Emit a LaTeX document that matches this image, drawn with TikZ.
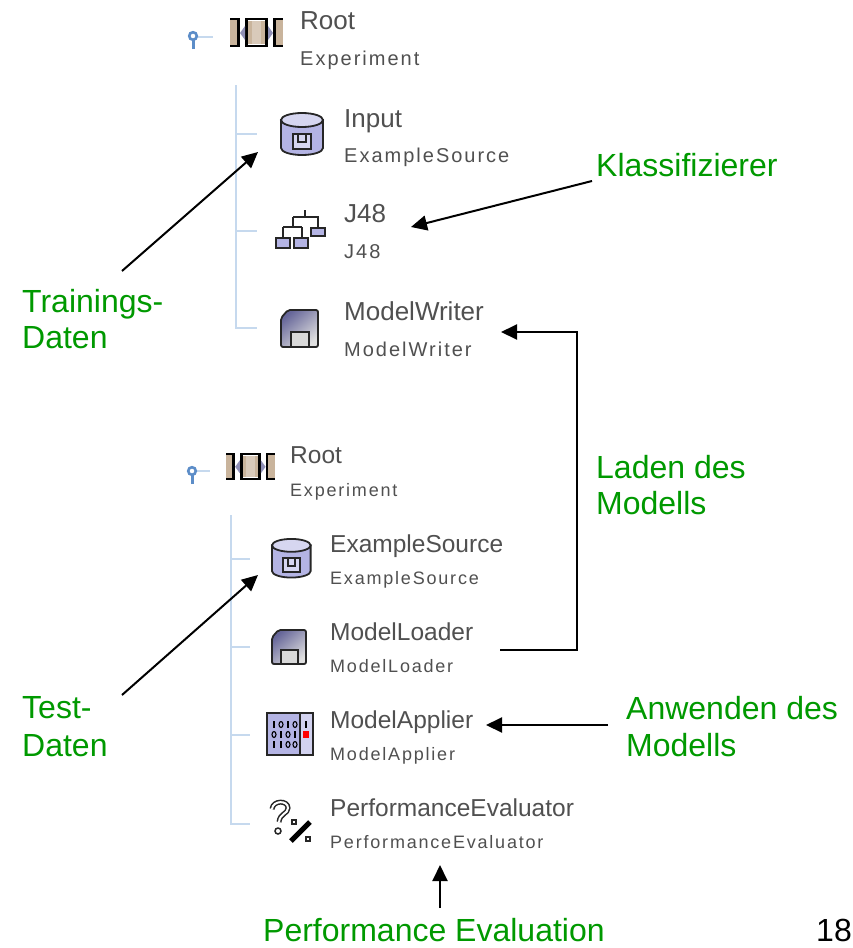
\documentclass[tikz,border=0pt]{standalone}
\usepackage{fontspec}
\setmainfont{Liberation Sans}
\newfontfamily\uismall[LetterSpace=10]{Liberation Sans}
\usetikzlibrary{arrows.meta}
\definecolor{labgreen}{HTML}{009900}
\definecolor{uigray}{HTML}{505050}
\definecolor{treeblue}{HTML}{C6D9EE}
\definecolor{pinblue}{HTML}{5C8DC8}
\definecolor{iconblue}{HTML}{B4B4E4}
\definecolor{icontan}{HTML}{C9B49C}
\tikzset{
  x=1pt,y=-1pt,
  glabel/.style={anchor=base west,inner sep=0pt,text=labgreen,font=\fontsize{32}{36}\selectfont},
  bigA/.style={anchor=base west,inner sep=0pt,text=uigray,font=\fontsize{26}{30}\selectfont},
  smallA/.style={anchor=base west,inner sep=0pt,text=uigray,font=\uismall\fontsize{20}{24}\selectfont},
  bigB/.style={anchor=base west,inner sep=0pt,text=uigray,font=\fontsize{24.5}{28}\selectfont},
  smallB/.style={anchor=base west,inner sep=0pt,text=uigray,font=\uismall\fontsize{18}{22}\selectfont},
  conn/.style={draw=black,line width=2pt},
  arrowed/.style={conn,-{Triangle[length=16pt,width=15pt]}},
  treeline/.style={draw=treeblue,line width=2pt},
  icon/.style={draw=black!85,line width=1.8pt},
  expicon/.pic={
    \fill[icontan] (0,2) rectangle (8,27);
    \fill[icontan] (16,3) rectangle (37,26);
    \fill[icontan!70!white] (22,3) rectangle (31,26);
    \fill[icontan] (46,2) rectangle (53,27);
    \fill[black] (7,0) rectangle (10,29);
    \fill[black] (43,0) rectangle (46,29);
    \fill[black] (15,0) rectangle (18,29);
    \fill[black] (35,0) rectangle (38,29);
    \fill[black] (0,0) rectangle (8,2);
    \fill[black] (0,27) rectangle (8,29);
    \fill[black] (15,0) rectangle (38,2);
    \fill[black] (15,27) rectangle (38,29);
    \fill[black] (45,0) rectangle (53,2);
    \fill[black] (45,27) rectangle (53,29);
    \fill[iconblue!80!black] (10,15) -- (15,8) -- (15,22) -- cycle;
    \fill[iconblue!80!black] (43,15) -- (38,8) -- (38,22) -- cycle;
  },
  cylicon/.pic={
    \path[icon,fill=iconblue] (0,8) -- (0,36) arc[start angle=180,end angle=0,x radius=21,y radius=7] -- (42,8) -- cycle;
    \path[icon,fill=iconblue!55] (21,8) ellipse[x radius=21,y radius=7];
    \path[icon,fill=iconblue!55] (12,22) rectangle (30,37);
    \path[icon] (17,22) -- (17,30) -- (25,30) -- (25,22);
  },
  treeicon/.pic={
    \draw[icon] (30,0) -- (30,7) (18,7) -- (43,7) -- (43,18) (18,7) -- (18,17) (8,17) -- (27,17) (8,17) -- (8,28) (27,17) -- (27,28);
    \path[icon,fill=iconblue] (36,18) rectangle (50,26);
    \path[icon,fill=iconblue] (1,28) rectangle (15,38);
    \path[icon,fill=iconblue] (19,28) rectangle (33,38);
  },
  floppyicon/.pic={
    \path[icon,rounded corners=2pt,shading=axis,left color=gray!80!blue,right color=gray!25,shading angle=40] (7,0) -- (37,0) -- (37,37) -- (0,37) -- (0,8) -- cycle;
    \path[icon,fill=gray!30] (10,22) rectangle (28,37);
  },
  appicon/.pic={
    \path[icon,fill=iconblue] (0,0) rectangle (46,42);
    \fill[iconblue!60] (34,1) rectangle (45,41);
    \draw[icon] (33,0) -- (33,42);
    \fill[red] (36,18) rectangle (42,25);
    \draw[black,line width=1.4pt] (39,8) -- (39,15);
    \foreach \row/\pa/\pb/\pc/\pd in {0/1/0/1/0,1/0/1/0/1,2/1/1/0/0}{
      \foreach \col/\v in {0/\pa,1/\pb,2/\pc,3/\pd}{
        \ifnum\v=1
          \draw[black,line width=1.3pt] ({7+\col*7},{8+\row*10}) -- ({7+\col*7},{15+\row*10});
        \else
          \draw[black,line width=1.1pt] ({7+\col*7},{11.5+\row*10}) ellipse[x radius=2,y radius=3];
        \fi
      }
    }
  },
  perficon/.pic={
    \draw[black!85,line width=5pt] (2,9) .. controls (3,0) and (18,0) .. (18,8) .. controls (18,14) and (10,13) .. (9,22);
    \draw[white,line width=2pt] (2,9) .. controls (3,0) and (18,0) .. (18,8) .. controls (18,14) and (10,13) .. (9,22);
    \draw[black!85,line width=1.5pt,fill=white] (8,31) circle[radius=3];
    \draw[black,line width=5pt] (21,41) -- (40,22);
    \draw[black!85,line width=1.5pt,fill=white] (22,20) rectangle (26,24);
    \draw[black!85,line width=1.5pt,fill=white] (36,37) rectangle (40,41);
  },
  pinicon/.pic={
    \draw[pinblue,line width=3pt] (0,13) -- (0,4);
    \draw[pinblue,line width=2.6pt,fill=white] (0,0) circle[radius=3.8];
  },
}
\begin{document}
\begin{tikzpicture}
\useasboundingbox (0,0) rectangle (852,948);
\fill[white] (0,0) rectangle (852,948);

% upper tree
\draw[treeline] (236,85) -- (236,328) -- (257,328);
\draw[treeline] (236,134) -- (257,134);
\draw[treeline] (236,231) -- (257,231);
\draw[treeline] (196,37) -- (213,37);
\pic at (193,36) {pinicon};
\pic at (230,18) {expicon};
\pic at (281,112) {cylicon};
\pic at (275,210) {treeicon};
\pic at (281,310) {floppyicon};
\node[bigA]   (rootA)  at (300,29)  {Root};
\node[smallA] (expA)   at (300,65)  {Experiment};
\node[bigA]   (input)  at (344,127) {Input};
\node[smallA] (inputT) at (344,162) {ExampleSource};
\node[bigA]   (jA)     at (344,222) {J48};
\node[smallA] (jT)     at (344,258) {J48};
\node[bigA]   (mw)     at (344,320) {ModelWriter};
\node[smallA] (mwT)    at (344,356) {ModelWriter};

% lower tree
\draw[treeline] (231,515) -- (231,824) -- (250,824);
\draw[treeline] (231,559) -- (250,559);
\draw[treeline] (231,647) -- (250,647);
\draw[treeline] (231,735) -- (250,735);
\draw[treeline] (194,471) -- (210,471);
\pic at (192,471) {pinicon};
\pic[scale=.92] at (226,453) {expicon};
\pic[scale=.92] at (272,538) {cylicon};
\pic[scale=.92] at (272,630) {floppyicon};
\pic at (267,713) {appicon};
\pic at (270,800) {perficon};
\node[bigB]   (rootB) at (290,463) {Root};
\node[smallB] (expB)  at (290,496) {Experiment};
\node[bigB]   (es)    at (330,552) {ExampleSource};
\node[smallB] (esT)   at (330,584) {ExampleSource};
\node[bigB]   (ml)    at (330,640) {ModelLoader};
\node[smallB] (mlT)   at (330,672) {ModelLoader};
\node[bigB]   (ma)    at (330,728) {ModelApplier};
\node[smallB] (maT)   at (330,760) {ModelApplier};
\node[bigB]   (pe)    at (330,816) {PerformanceEvaluator};
\node[smallB] (peT)   at (330,848) {PerformanceEvaluator};

% green labels
\node[glabel] (train1) at (22,312)  {Trainings-};
\node[glabel] (train2) at (22,348)  {Daten};
\node[glabel] (klass)  at (596,176) {Klassifizierer};
\node[glabel] (laden1) at (596,478) {Laden des};
\node[glabel] (laden2) at (596,514) {Modells};
\node[glabel] (test1)  at (22,718)  {Test-};
\node[glabel] (test2)  at (22,756)  {Daten};
\node[glabel] (anw1)   at (626,719) {Anwenden des};
\node[glabel] (anw2)   at (626,756) {Modells};
\node[glabel] (perf)   at (263,941) {Performance Evaluation};
\node[anchor=base west,inner sep=0pt,font=\fontsize{32}{36}\selectfont] (pageno) at (816,941) {18};

% connector ends
\coordinate (trainS) at (122,271);
\coordinate (trainE) at (258,152);
\coordinate (klassS) at (592,181);
\coordinate (klassE) at (411,227);
\coordinate (loadS)  at (500,650);
\coordinate (loadC)  at (577,332);
\coordinate (loadE)  at (501,332);
\coordinate (testS)  at (122,695);
\coordinate (testE)  at (258,575);
\coordinate (anwS)   at (608,725);
\coordinate (anwE)   at (486,725);
\coordinate (perfS)  at (440,908);
\coordinate (perfE)  at (440,865);

\draw[arrowed] (trainS) -- (trainE);
\draw[arrowed] (klassS) -- (klassE);
\draw[arrowed] (loadS) -| (loadC) -- (loadE);
\draw[arrowed] (testS) -- (testE);
\draw[arrowed] (anwS) -- (anwE);
\draw[arrowed] (perfS) -- (perfE);
\end{tikzpicture}
\end{document}
